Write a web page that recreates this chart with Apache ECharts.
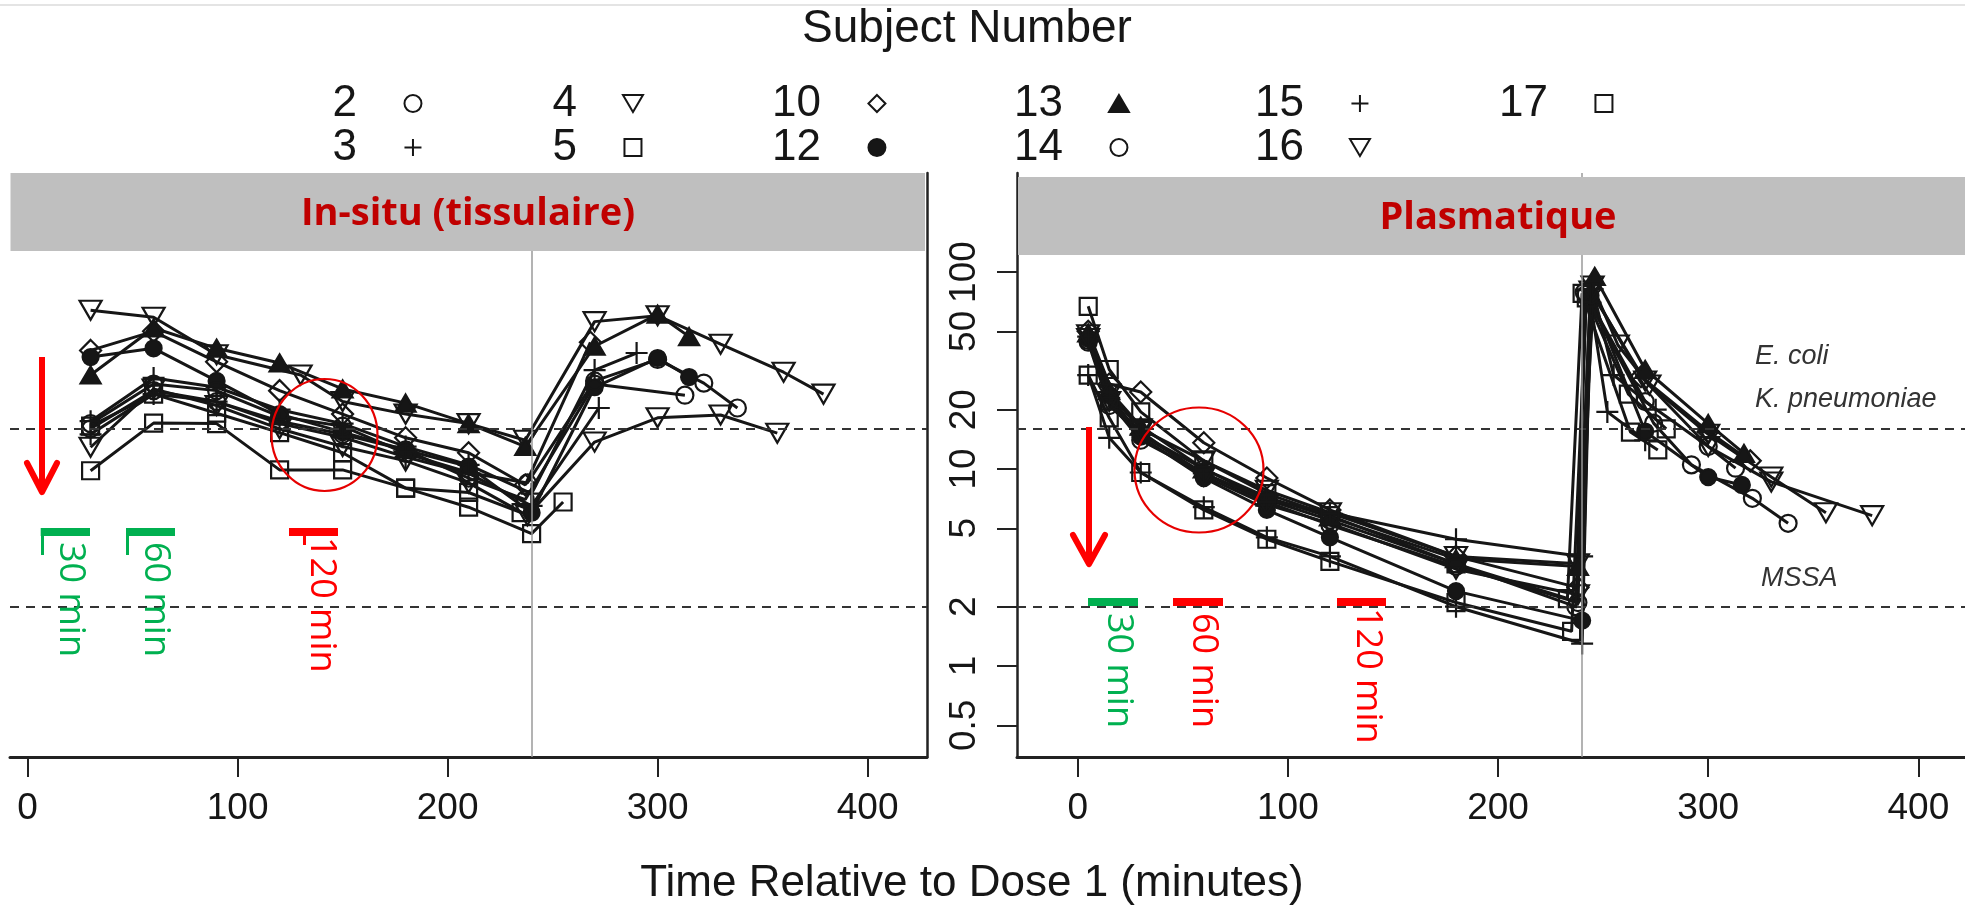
<!DOCTYPE html>
<html><head><meta charset="utf-8">
<script src="https://cdn.jsdelivr.net/npm/echarts@6/dist/echarts.min.js"></script>
<style>html,body{margin:0;padding:0;background:#fff}#c{width:1965px;height:905px}</style>
</head><body><div id="c"></div>
<script>
// ---------- data ----------
const subjects = ['2','3','4','5','10','12','13','14','15','16','17'];
const xTicks = [0, 100, 200, 300, 400];
const yTicks = [0.5, 1, 2, 5, 10, 20, 50, 100];
const micLines = [16, 2];
const doseTime = 240;

// In-situ (tissue) concentrations: [minutes, value]
const insitu2  = [[30,16],[60,25],[90,22],[120,17.5],[150,15],[180,12.5],[210,9],[237,7],[270,27],[313,23.7]];
const insitu3  = [[30,17.5],[60,29],[90,26],[120,20],[150,17],[180,13],[210,10.5],[240,7.5],[270,31.8],[290,38.8]];
const insitu4  = [[30,64],[60,59],[90,38],[130,30],[150,22],[180,19],[210,17],[237,14],[270,56],[300,60],[330,43],[360,31],[379,24]];
const insitu5  = [[30,16.5],[60,24],[90,19.2],[120,15.3],[150,12.1],[180,8],[210,6.4],[240,4.7],[255,6.8]];
const insitu10 = [[30,40],[60,50],[90,35],[120,25],[150,19],[180,14.4],[210,12.1],[237,8.3],[268,44]];
const insitu12 = [[30,37],[60,41],[90,28],[120,19],[150,15.4],[180,12.5],[210,10.3],[240,6],[270,26],[300,36.6],[315,29.3]];
const insitu13 = [[30,30],[60,52],[90,41],[120,34.5],[150,25.5],[180,21.6],[210,17],[237,13],[270,42],[300,61],[315,47]];
const insitu14 = [[30,17],[60,27],[90,25],[120,18.5],[150,16.5],[180,12],[210,9.6],[238,8.5],[270,28],[300,36],[322,27.3],[338,20.4]];
const insitu15 = [[30,15],[60,24],[90,22],[120,17],[150,14.5],[180,11.5],[210,9.5],[240,6.5],[272,20.4]];
const insitu16 = [[30,12.9],[60,25.5],[90,21],[120,16],[150,13],[180,11],[210,8.5],[238,5.8],[270,13.7],[300,18.2],[330,18.8],[357,15.2]];
const insitu17 = [[30,9.8],[60,17.1],[90,17],[120,9.9],[150,9.9],[180,8],[210,7.6],[235,6]];

// Plasma concentrations: [minutes, value]
const plasma2  = [[5,44],[15,21],[30,15],[60,10],[90,7],[120,5.5],[180,3.3],[237,2.0],[242,77],[270,22],[300,13],[313,10.1]];
const plasma3  = [[5,30],[15,14.4],[30,9.6],[60,6.4],[90,4.5],[120,3.6],[180,2.0],[240,1.3],[244,70],[252,19.5],[270,14]];
const plasma4  = [[5,48],[15,24],[30,16],[60,11],[90,7.8],[120,6],[180,3.6],[238,3.3],[245,85],[257,42.6],[272,26.7],[300,15],[330,9.1],[356,6.0]];
const plasma5  = [[5,30],[15,18.2],[30,9.6],[60,6.2],[90,4.4],[120,3.4],[180,2.1],[235,1.5],[242,74],[262,24],[280,16]];
const plasma10 = [[5,50],[15,27],[30,24.6],[60,13.6],[90,9],[120,6.2],[180,3.6],[238,2.5],[244,82],[268,29.4],[300,15.5],[320,11]];
const plasma12 = [[5,46],[15,23.7],[30,14.6],[60,9],[90,6.2],[120,4.5],[180,2.4],[240,1.7],[244,76],[270,15.5],[300,9.1],[316,8.3]];
const plasma13 = [[5,49],[15,25],[30,16.5],[60,10],[90,7.2],[120,5.7],[180,3.5],[238,3.2],[246,95],[270,32],[300,17],[317,12]];
const plasma14 = [[5,45],[15,22],[30,14],[60,9.5],[90,6.8],[120,5.2],[180,3.2],[238,2.1],[241,79],[274,17.1],[292,10.5],[321,7.1],[338,5.3]];
const plasma15 = [[5,47],[15,23],[30,15],[60,9.5],[90,7],[120,6],[180,4.4],[240,3.6],[245,82],[255,30],[275,20]];
const plasma16 = [[5,46],[15,22],[30,15.5],[60,9.2],[90,6.6],[120,5.3],[180,3.1],[238,2.3],[244,80],[270,28],[300,13],[330,8.6],[378,5.8]];
const plasma17 = [[5,67],[15,32],[30,19.5],[60,11],[90,7.5],[120,5.8],[180,3.3],[233,2.2],[240,78],[263,15.4],[276,12.5]];

const insituData = [insitu2, insitu3, insitu4, insitu5, insitu10, insitu12, insitu13, insitu14, insitu15, insitu16, insitu17];
const plasmaData = [plasma2, plasma3, plasma4, plasma5, plasma10, plasma12, plasma13, plasma14, plasma15, plasma16, plasma17];

// ---------- styles ----------
const INK = '#161616';
const NONE = 'rgba(0,0,0,0)';
const P_TRI_DOWN = 'path://M0,0L20,0L10,17Z';
const P_TRI_UP = 'path://M10,0L20,17L0,17Z';
const P_SQUARE = 'path://M0,0L10,0L10,10L0,10Z';
const P_DIAMOND = 'path://M10,0L20,10L10,20L0,10Z';
const P_PLUS = 'path://M0,10L20,10M10,0L10,20';
const symStyle = {
  '2':  {symbol:'circle',   size:17,      fill:NONE},
  '3':  {symbol:P_PLUS,     size:[22,22], fill:NONE},
  '4':  {symbol:P_TRI_DOWN, size:[22,19], fill:NONE},
  '5':  {symbol:P_SQUARE,   size:[17,17], fill:NONE},
  '10': {symbol:P_DIAMOND,  size:[21,21], fill:NONE},
  '12': {symbol:'circle',   size:16,      fill:INK},
  '13': {symbol:P_TRI_UP,   size:[20,17], fill:INK},
  '14': {symbol:'circle',   size:17,      fill:NONE},
  '15': {symbol:P_PLUS,     size:[22,22], fill:NONE},
  '16': {symbol:P_TRI_DOWN, size:[22,19], fill:NONE},
  '17': {symbol:P_SQUARE,   size:[17,17], fill:NONE}
};

const FONT = 'Liberation Sans';
const Y_MIN = 0.3452, Y_MAX = 318.2;

function mkSeries(name, data, gridIdx) {
  const s = symStyle[name];
  return {
    name: name, type: 'line', xAxisIndex: gridIdx, yAxisIndex: gridIdx,
    data: data, symbol: s.symbol, symbolSize: s.size, showAllSymbol: true,
    itemStyle: {color: s.fill, borderColor: INK, borderWidth: 2.2},
    lineStyle: {color: INK, width: 3},
    emphasis: {disabled: true}, animation: false, z: 3
  };
}

function refSeries(gridIdx) {
  return {
    type: 'line', xAxisIndex: gridIdx, yAxisIndex: gridIdx, data: [], silent: true, animation: false,
    markLine: {
      silent: true, symbol: ['none','none'], animation: false, label: {show: false},
      data: [
        {yAxis: micLines[0], lineStyle: {color: '#333', width: 2.2, type: [9, 7]}},
        {yAxis: micLines[1], lineStyle: {color: '#333', width: 2.2, type: [9, 7]}},
        {xAxis: doseTime, lineStyle: {color: '#9a9a9a', width: 1.5, type: 'solid'}}
      ]
    }
  };
}

const series = [refSeries(0), refSeries(1)];
subjects.forEach((n, i) => { series.push(mkSeries(n, insituData[i], 0)); });
subjects.forEach((n, i) => { series.push(mkSeries(n, plasmaData[i], 1)); });

// legend: 6 columns x 2 rows
const legendCols = [['2','3'],['4','5'],['10','12'],['13','14'],['15','16'],['17']];
const legendLeft = [332.5, 552.5, 772, 1014, 1255, 1499];
function legendIcon(n) {
  const s = symStyle[n];
  return {name: n, icon: s.symbol, itemStyle: {color: s.fill, borderColor: INK, borderWidth: 2}};
}
const legends = legendCols.map((col, i) => ({
  orient: 'vertical', left: legendLeft[i], top: 81.5, padding: 0, itemGap: 0,
  itemWidth: 102, itemHeight: 17, align: 'right', selectedMode: false,
  textStyle: {fontSize: 44, fontFamily: FONT, color: INK, lineHeight: 41},
  data: col.map(legendIcon)
}));

function xAxisCfg(gridIdx, min, max) {
  return {
    gridIndex: gridIdx, type: 'value', min: min, max: max,
    axisLine: {show: true, onZero: false, lineStyle: {color: '#222', width: 3}},
    axisTick: {show: true, length: 20, customValues: xTicks, lineStyle: {color: '#222', width: 2}},
    axisLabel: {customValues: xTicks, fontSize: 37, fontFamily: FONT, color: INK, margin: 33},
    splitLine: {show: false}
  };
}

const option = {
  backgroundColor: '#fff',
  animation: false,
  title: [
    {text: 'Subject Number', left: 967, top: 29, textAlign: 'center', textVerticalAlign: 'middle', padding: 0,
     textStyle: {fontSize: 46, fontWeight: 'normal', fontFamily: FONT, color: INK}},
    {text: 'Time Relative to Dose 1 (minutes)', left: 972, top: 884, textAlign: 'center', textVerticalAlign: 'middle', padding: 0,
     textStyle: {fontSize: 44, fontWeight: 'normal', fontFamily: FONT, color: INK}}
  ],
  legend: legends,
  grid: [
    {left: 10, top: 173, width: 917, height: 584, containLabel: false},
    {left: 1017, top: 173, width: 948, height: 584, containLabel: false}
  ],
  xAxis: [xAxisCfg(0, -8.381, 428.286), xAxisCfg(1, -28.877, 422.17)],
  yAxis: [
    {gridIndex: 0, type: 'log', logBase: 10, min: Y_MIN, max: Y_MAX, position: 'right',
     axisLine: {show: true, onZero: false, lineStyle: {color: '#222', width: 2.5}},
     axisTick: {show: false}, axisLabel: {show: false}, splitLine: {show: false}},
    {gridIndex: 1, type: 'log', logBase: 10, min: Y_MIN, max: Y_MAX, position: 'left',
     axisLine: {show: true, onZero: false, lineStyle: {color: '#222', width: 2.5}},
     axisTick: {show: true, length: 20, customValues: yTicks, lineStyle: {color: '#222', width: 2}},
     axisLabel: {customValues: yTicks, rotate: 90, fontSize: 37, fontFamily: FONT, color: INK, margin: 34,
                 formatter: v => String(+(+v).toPrecision(3))},
     splitLine: {show: false}}
  ],
  graphic: [
    {type: 'line', z: 100, shape: {x1: 0, y1: 5, x2: 1965, y2: 5}, style: {stroke: '#e4e4e4', lineWidth: 2}},
    // panel headers
    {type: 'rect', z: 100, shape: {x: 10.5, y: 173, width: 914.5, height: 78}, style: {fill: '#bfbfbf'}},
    {type: 'text', z: 101, x: 468, y: 214, style: {text: 'In-situ (tissulaire)', fill: '#c00000', fontSize: 38, fontWeight: 'bold', fontFamily: 'Open Sans', align: 'center', verticalAlign: 'middle'}},
    {type: 'rect', z: 100, shape: {x: 1018, y: 177, width: 947, height: 78}, style: {fill: '#bfbfbf'}},
    {type: 'text', z: 101, x: 1498, y: 218, style: {text: 'Plasmatique', fill: '#c00000', fontSize: 38, fontWeight: 'bold', fontFamily: 'Open Sans', align: 'center', verticalAlign: 'middle'}},
    // MIC labels
    {type: 'text', z: 101, x: 1755, y: 356, style: {text: 'E. coli', fill: '#333', fontSize: 27, fontStyle: 'italic', fontFamily: FONT, align: 'left', verticalAlign: 'middle'}},
    {type: 'text', z: 101, x: 1755, y: 399, style: {text: 'K. pneumoniae', fill: '#333', fontSize: 27, fontStyle: 'italic', fontFamily: FONT, align: 'left', verticalAlign: 'middle'}},
    {type: 'text', z: 101, x: 1761, y: 578, style: {text: 'MSSA', fill: '#333', fontSize: 27, fontStyle: 'italic', fontFamily: FONT, align: 'left', verticalAlign: 'middle'}},
    // red arrows
    {type: 'line', z: 101, shape: {x1: 42, y1: 357, x2: 42, y2: 488}, style: {stroke: '#ff0000', lineWidth: 6}},
    {type: 'polyline', z: 101, shape: {points: [[27, 463], [42, 492], [57, 463]]}, style: {stroke: '#ff0000', lineWidth: 6, lineJoin: 'round', lineCap: 'round', fill: 'none'}},
    {type: 'line', z: 101, shape: {x1: 1089, y1: 427, x2: 1089, y2: 560}, style: {stroke: '#ff0000', lineWidth: 6}},
    {type: 'polyline', z: 101, shape: {points: [[1073, 535], [1089, 564], [1105, 535]]}, style: {stroke: '#ff0000', lineWidth: 6, lineJoin: 'round', lineCap: 'round', fill: 'none'}},
    // red ellipses
    {type: 'ellipse', z: 101, shape: {cx: 324.5, cy: 435, rx: 53, ry: 56}, style: {stroke: '#e60000', lineWidth: 2.2, fill: 'none'}},
    {type: 'ellipse', z: 101, shape: {cx: 1199, cy: 470, rx: 64.5, ry: 62.5}, style: {stroke: '#e60000', lineWidth: 2.2, fill: 'none'}},
    // time markers, left panel
    {type: 'rect', z: 101, shape: {x: 40.7, y: 528, width: 49.3, height: 8}, style: {fill: '#00b050'}},
    {type: 'rect', z: 101, shape: {x: 41, y: 528, width: 3, height: 27}, style: {fill: '#00b050'}},
    {type: 'text', z: 101, x: 70, y: 542, rotation: -Math.PI / 2, style: {text: '30 min', fill: '#00b050', fontSize: 36, fontFamily: 'Open Sans', align: 'left', verticalAlign: 'middle'}},
    {type: 'rect', z: 101, shape: {x: 126, y: 528, width: 49, height: 8}, style: {fill: '#00b050'}},
    {type: 'rect', z: 101, shape: {x: 126, y: 528, width: 3, height: 27}, style: {fill: '#00b050'}},
    {type: 'text', z: 101, x: 155, y: 542, rotation: -Math.PI / 2, style: {text: '60 min', fill: '#00b050', fontSize: 36, fontFamily: 'Open Sans', align: 'left', verticalAlign: 'middle'}},
    {type: 'rect', z: 101, shape: {x: 289, y: 528, width: 49, height: 8}, style: {fill: '#ff0000'}},
    {type: 'rect', z: 101, shape: {x: 303, y: 528, width: 3, height: 17}, style: {fill: '#ff0000'}},
    {type: 'text', z: 101, x: 321, y: 537, rotation: -Math.PI / 2, style: {text: '120 min', fill: '#ff0000', fontSize: 36, fontFamily: 'Open Sans', align: 'left', verticalAlign: 'middle'}},
    // time markers, right panel
    {type: 'rect', z: 101, shape: {x: 1088, y: 598, width: 50, height: 8}, style: {fill: '#00b050'}},
    {type: 'text', z: 101, x: 1118, y: 613, rotation: -Math.PI / 2, style: {text: '30 min', fill: '#00b050', fontSize: 36, fontFamily: 'Open Sans', align: 'left', verticalAlign: 'middle'}},
    {type: 'rect', z: 101, shape: {x: 1173, y: 598, width: 50, height: 8}, style: {fill: '#ff0000'}},
    {type: 'text', z: 101, x: 1203, y: 613, rotation: -Math.PI / 2, style: {text: '60 min', fill: '#ff0000', fontSize: 36, fontFamily: 'Open Sans', align: 'left', verticalAlign: 'middle'}},
    {type: 'rect', z: 101, shape: {x: 1337, y: 598, width: 49, height: 8}, style: {fill: '#ff0000'}},
    {type: 'text', z: 101, x: 1367, y: 608, rotation: -Math.PI / 2, style: {text: '120 min', fill: '#ff0000', fontSize: 36, fontFamily: 'Open Sans', align: 'left', verticalAlign: 'middle'}}
  ],
  series: series
};

const chart = echarts.init(document.getElementById('c'), null, {renderer: 'canvas', width: 1965, height: 905});
chart.setOption(option);
</script>
</body></html>
